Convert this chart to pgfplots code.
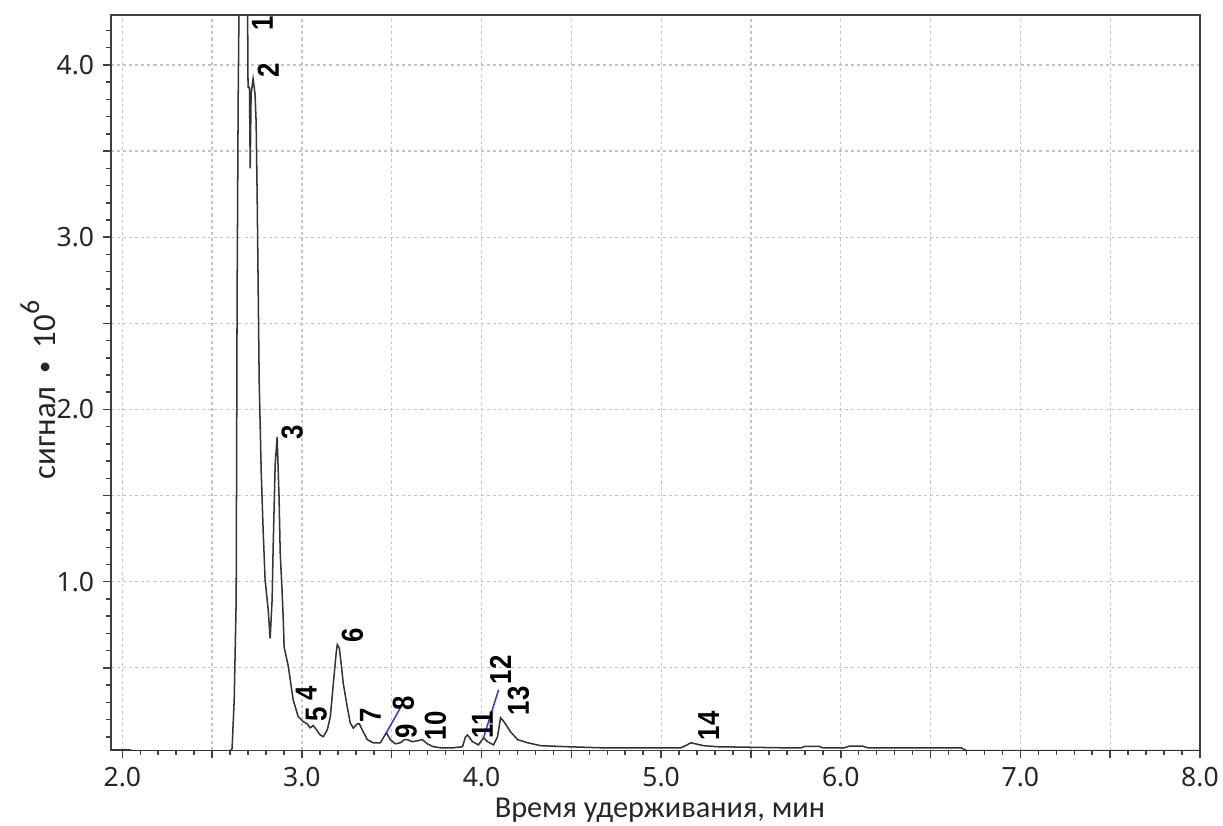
\documentclass[border=0pt]{standalone}
\usepackage{fontspec}
\setmainfont{Carlito}
\newfontfamily\tickfont{Noto Sans}
\newfontfamily\peakfont{Liberation Sans}
\usepackage{pgfplots}
\pgfplotsset{compat=1.18}
\definecolor{gridgray}{HTML}{C4C4C4}
\definecolor{axgray}{HTML}{404040}
\definecolor{trace}{HTML}{333333}

\newcommand{\pk}[1]{\scalebox{0.85}[1]{\peakfont\fontsize{12}{12}\selectfont\bfseries #1}}
\tikzset{peak/.style={rotate=90, inner sep=0pt, anchor=center}}

\begin{document}
\begin{tikzpicture}
\begin{axis}[
  name=ax,
  scale only axis,
  width=15.137cm, height=10.224cm,
  xmin=1.937, xmax=8.0,
  ymin=0.02, ymax=4.29,
  axis line style={axgray, line width=0.6pt},
  tick style={axgray, line width=0.6pt},
  tick align=outside,
  major tick length=0.11cm,
  minor tick length=0.065cm,
  xtick={2,2.5,...,8},
  xticklabels={2.0,,3.0,,4.0,,5.0,,6.0,,7.0,,8.0},
  minor xtick={2,2.1,...,8},
  ytick={0.5,1,...,4},
  yticklabels={,1.0,,2.0,,3.0,,4.0},
  minor ytick={0.1,0.2,...,4.25},
  xtick pos=bottom, ytick pos=left,
  tick label style={font=\tickfont\fontsize{10.5}{12}\selectfont, color=black!85},
  grid=major,
  major grid style={gridgray, dash pattern=on 1.2pt off 1.2pt, line width=0.5pt},
  xlabel={Время удерживания, мин},
  ylabel={сигнал \,\raisebox{0.1em}{\scalebox{0.75}{•}}\, 10\raisebox{0.5em}{\fontsize{11}{12}\selectfont 6}},
  every axis x label/.style={at={(axis description cs:0.504,-0.081)}, anchor=center,
    font=\fontsize{12}{14}\selectfont, text=black!85},
  every axis y label/.style={at={(axis description cs:-0.067,0.49)}, anchor=center, rotate=90,
    font=\fontsize{13}{15}\selectfont, text=black!85},
  clip mode=individual,
]
\addplot[trace, line width=0.6pt] coordinates {
(1.937,0.024) (2.04,0.024) (2.06,0.018) (2.60,0.018) (2.611,0.03) (2.623,0.315)
(2.634,0.895) (2.639,2.63) (2.645,3.79) (2.668,6.5) (2.697,4.4) (2.700,3.87)
(2.708,3.87) (2.712,3.40) (2.717,3.83) (2.728,3.92) (2.739,3.83) (2.745,3.67)
(2.751,3.22) (2.762,2.17) (2.773,1.65) (2.784,1.30) (2.795,1.01) (2.812,0.84)
(2.823,0.67) (2.834,0.895) (2.840,1.21) (2.851,1.68) (2.862,1.84) (2.873,1.48)
(2.879,1.17) (2.890,0.935) (2.896,0.78) (2.901,0.62) (2.924,0.51) (2.951,0.315)
(2.979,0.217) (3.007,0.188) (3.029,0.175) (3.046,0.152) (3.063,0.165) (3.080,0.142)
(3.102,0.11) (3.119,0.10) (3.141,0.14) (3.158,0.215) (3.175,0.41) (3.191,0.59)
(3.197,0.635) (3.208,0.615) (3.219,0.52) (3.230,0.41) (3.252,0.275) (3.269,0.18)
(3.286,0.15) (3.308,0.175) (3.320,0.175) (3.336,0.14) (3.364,0.083) (3.398,0.065)
(3.437,0.065) (3.453,0.094) (3.470,0.123) (3.492,0.083) (3.520,0.059) (3.548,0.065)
(3.570,0.083) (3.587,0.083) (3.615,0.071) (3.643,0.077) (3.671,0.083) (3.698,0.059)
(3.732,0.042) (3.771,0.036) (3.844,0.036) (3.894,0.042) (3.911,0.10) (3.922,0.11)
(3.950,0.071) (3.983,0.053) (4.011,0.094) (4.033,0.071) (4.067,0.053) (4.089,0.10)
(4.106,0.21) (4.123,0.19) (4.162,0.128) (4.201,0.083) (4.257,0.065) (4.329,0.048)
(4.479,0.042) (4.663,0.036) (5.109,0.036) (5.14,0.05) (5.165,0.065) (5.237,0.048)
(5.315,0.042) (5.667,0.036) (5.78,0.036) (5.80,0.044) (5.88,0.044) (5.90,0.036)
(6.02,0.036) (6.05,0.046) (6.12,0.046) (6.15,0.036) (6.67,0.036) (6.70,0.02) (8.0,0.02)
};
% pointer lines for peaks 8 and 12
\draw[blue!80, line width=0.6pt] (axis cs:3.470,0.123) -- (axis cs:3.548,0.268);
\draw[blue!80, line width=0.6pt] (axis cs:4.011,0.094) -- (axis cs:4.095,0.373);
% peak numbers
\node[peak] at (axis cs:2.780,4.24) {\pk{1}};
\node[peak] at (axis cs:2.813,3.97) {\pk{2}};
\node[peak] at (axis cs:2.946,1.87) {\pk{3}};
\node[peak] at (axis cs:3.024,0.35) {\pk{4}};
\node[peak] at (axis cs:3.080,0.228) {\pk{5}};
\node[peak] at (axis cs:3.281,0.686) {\pk{6}};
\node[peak] at (axis cs:3.381,0.222) {\pk{7}};
\node[peak] at (axis cs:3.565,0.292) {\pk{8}};
\node[peak] at (axis cs:3.581,0.129) {\pk{9}};
\node[peak] at (axis cs:3.743,0.164) {\pk{10}};
\node[peak] at (axis cs:4.005,0.170) {\pk{11}};
\node[peak] at (axis cs:4.106,0.489) {\pk{12}};
\node[peak] at (axis cs:4.206,0.309) {\pk{13}};
\node[peak] at (axis cs:5.265,0.164) {\pk{14}};
\end{axis}
\pgfresetboundingbox
\path[use as bounding box] ([shift={(-1.543cm,-1.036cm)}]ax.south west) rectangle ([shift={(0.320cm,0.2085cm)}]ax.north east);
\end{tikzpicture}
\end{document}
